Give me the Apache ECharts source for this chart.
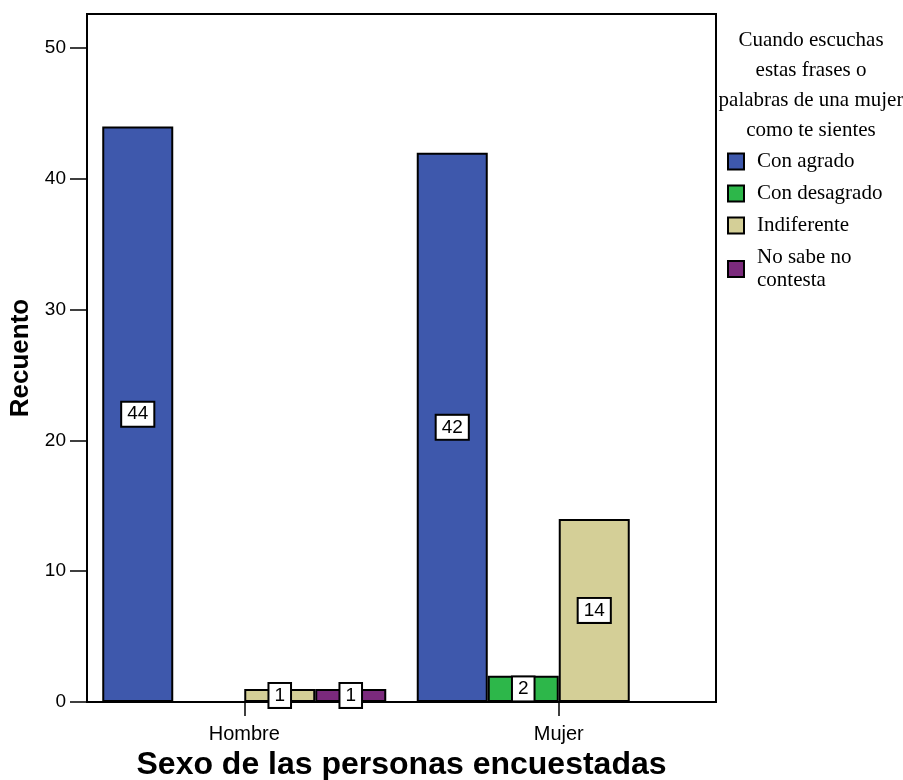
<!DOCTYPE html>
<html>
<head>
<meta charset="utf-8">
<script src="https://cdn.jsdelivr.net/npm/echarts@6/dist/echarts.min.js"></script>
<style>
html,body{margin:0;padding:0;background:#fff;}
#chart{width:903px;height:780px;}
</style>
</head>
<body>
<div id="chart"></div>
<script>
var categories = ['Hombre', 'Mujer'];
var seriesNames = ['Con agrado', 'Con desagrado', 'Indiferente', 'No sabe no contesta'];
var conAgrado = [44, 42];
var conDesagrado = ['-', 2];
var indiferente = [1, 14];
var noSabe = [1, '-'];
var yTicks = [0, 10, 20, 30, 40, 50];
var yMax = 52.6;
var legendTitle = ['Cuando escuchas', 'estas frases o', 'palabras de una mujer', 'como te sientes'];

var colors = ['#3e58ac', '#2db74a', '#d4cf97', '#7b2a7c'];
var values = [conAgrado, conDesagrado, indiferente, noSabe];

var chart = echarts.init(document.getElementById('chart'), null, {renderer: 'canvas'});

var series = seriesNames.map(function (name, i) {
  return {
    name: name,
    type: 'bar',
    data: values[i],
    barWidth: 71,
    barGap: '0%',
    itemStyle: {color: colors[i], borderColor: '#000', borderWidth: 2},
    label: {
      show: true,
      position: 'inside',
      formatter: '{c}',
      color: '#000',
      fontFamily: 'Liberation Sans',
      fontSize: 19,
      backgroundColor: '#fff',
      borderColor: '#000',
      borderWidth: 2,
      padding: [3, 5, 1, 5]
    },
    emphasis: {disabled: true}
  };
});

chart.setOption({
  animation: false,
  title: {
    text: legendTitle.join('\n'),
    left: 806,
    top: 20,
    textAlign: 'center',
    textStyle: {fontFamily: 'Liberation Serif', fontSize: 21, fontWeight: 'normal', color: '#000', lineHeight: 30}
  },
  legend: {
    orient: 'vertical',
    left: 722,
    top: 145,
    icon: 'rect',
    itemWidth: 16,
    itemHeight: 16,
    itemGap: 9,
    data: seriesNames,
    formatter: function (n) { return n === 'No sabe no contesta' ? 'No sabe no\ncontesta' : n; },
    textStyle: {fontFamily: 'Liberation Serif', fontSize: 21, color: '#000', lineHeight: 23, padding: [0, 0, 0, 8]}
  },
  grid: {left: 87, right: 187, top: 14, bottom: 78, outerBoundsMode: 'none', show: true, borderColor: '#000', borderWidth: 2, backgroundColor: 'transparent'},
  xAxis: {
    type: 'category',
    data: categories,
    axisLine: {show: false},
    axisTick: {show: true, alignWithLabel: true, length: 14, lineStyle: {color: '#000', width: 1.5}},
    axisLabel: {margin: 22, fontFamily: 'Liberation Sans', fontSize: 20, color: '#000'},
    name: 'Sexo de las personas encuestadas',
    nameLocation: 'middle',
    nameGap: 44,
    nameTextStyle: {fontFamily: 'Liberation Sans', fontSize: 32, fontWeight: 'bold', color: '#000'}
  },
  yAxis: {
    type: 'value',
    min: yTicks[0],
    max: yMax,
    interval: 10,
    axisLine: {show: false},
    splitLine: {show: false},
    axisTick: {show: true, length: 17, customValues: yTicks, lineStyle: {color: '#000', width: 1.5}},
    axisLabel: {margin: 21, customValues: yTicks, fontFamily: 'Liberation Sans', fontSize: 19, color: '#000'},
    name: 'Recuento',
    nameLocation: 'middle',
    nameGap: 45,
    nameTextStyle: {fontFamily: 'Liberation Sans', fontSize: 26, fontWeight: 'bold', color: '#000'}
  },
  series: series
});
</script>
</body>
</html>
